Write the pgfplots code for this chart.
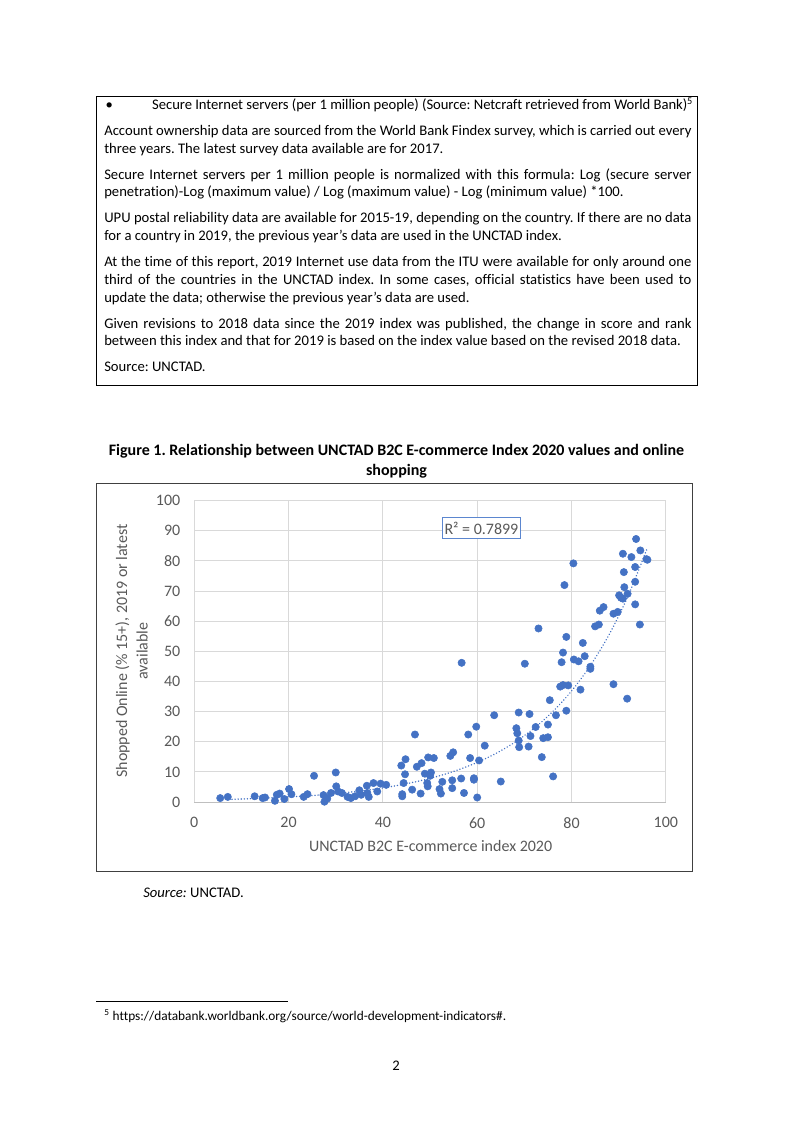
\documentclass[border=0pt]{standalone}
\usepackage{fontspec}
\setmainfont{Carlito}[Ligatures={NoCommon}]
\usepackage{pgfplots}
\pgfplotsset{compat=1.18}

\definecolor{xlblue}{HTML}{4472C4}
\definecolor{gridgray}{HTML}{D9D9D9}
\definecolor{axisgray}{HTML}{BFBFBF}
\definecolor{labelgray}{HTML}{595959}
\definecolor{framegray}{HTML}{404040}
\definecolor{boxblue}{HTML}{5B86CF}

\newcommand\jl[1]{\hbox to \linewidth{#1}}
\newcommand\nl[1]{\hbox{#1}}

\begin{document}
\frenchspacing
\begin{tikzpicture}
\begin{scope}[x=0.75066pt,y=-0.75066pt]
  \useasboundingbox (0,0) rectangle (793,1122);
  % text box
  \draw[line width=0.6pt] (96,96) rectangle (697,385);
  \node[anchor=base west, inner sep=0pt] at (104,109.5) {%
    \begin{minipage}[t]{440.8pt}
      \fontsize{11pt}{13.36pt}\selectfont
      \nl{\hbox to 36pt{\hspace{1pt}•\hfill}{\addfontfeature{LetterSpace=-0.4}Secure Internet servers (per 1 million people) (Source: Netcraft retrieved from World Bank)\textsuperscript{5}}}
      \vskip 6.1pt
      \jl{Account ownership data are sourced from the World Bank Findex survey, which is carried out every}
      \nl{three years. The latest survey data available are for 2017.}
      \vskip 6.1pt
      \jl{Secure Internet servers per 1 million people is normalized with this formula: Log (secure server}
      \nl{penetration)-Log (maximum value) / Log (maximum value) - Log (minimum value) *100.}
      \vskip 6.1pt
      \jl{UPU postal reliability data are available for 2015-19, depending on the country. If there are no data}
      \nl{for a country in 2019, the previous year’s data are used in the UNCTAD index.}
      \vskip 6.1pt
      \jl{At the time of this report, 2019 Internet use data from the ITU were available for only around one}
      \jl{third of the countries in the UNCTAD index. In some cases, official statistics have been used to}
      \nl{update the data; otherwise the previous year’s data are used.}
      \vskip 6.1pt
      \jl{Given revisions to 2018 data since the 2019 index was published, the change in score and rank}
      \nl{between this index and that for 2019 is based on the index value based on the revised 2018 data.}
      \vskip 6.1pt
      \nl{Source: UNCTAD.}
    \end{minipage}};
  % caption
  \node[anchor=base, inner sep=0pt, font=\fontsize{12pt}{14pt}\selectfont\bfseries] at (396.5,455)
    {Figure 1. Relationship between UNCTAD B2C E-commerce Index 2020 values and online};
  \node[anchor=base, inner sep=0pt, font=\fontsize{12pt}{14pt}\selectfont\bfseries] at (396.5,475)
    {shopping};
  % chart frame
  \draw[framegray, line width=0.75pt] (96,483) rectangle (692.3,871.7);
  % axis titles
  \node[anchor=base, rotate=90, inner sep=0pt, text=labelgray, font=\fontsize{12pt}{14pt}\selectfont] at (127,651)
    {Shopped Online (\% 15+), 2019 or latest};
  \node[anchor=base, rotate=90, inner sep=0pt, text=labelgray, font=\fontsize{12pt}{14pt}\selectfont] at (147.5,651)
    {available};
  \node[anchor=base, inner sep=0pt, text=labelgray, font=\fontsize{12pt}{14pt}\selectfont] at (430.6,851)
    {UNCTAD B2C E-commerce index 2020};
  % source, footnote, page number
  \node[anchor=base west, inner sep=0pt, font=\fontsize{11pt}{13pt}\selectfont] at (143,897)
    {\textit{Source:} UNCTAD.};
  \draw[line width=0.8pt] (96,1001.7) -- (288,1001.7);
  \node[anchor=base west, inner sep=0pt, font=\fontsize{10pt}{12pt}\selectfont] at (104,1020.5)
    {\textsuperscript{5} https://databank.worldbank.org/source/world-development-indicators\#.};
  \node[anchor=base, inner sep=0pt, font=\fontsize{11pt}{13pt}\selectfont] at (396,1070.5) {2};
\end{scope}

\begin{axis}[
    at={(145.85pt,-602.03pt)}, anchor=south west,
    scale only axis, width=353.94pt, height=226.17pt,
    xmin=0, xmax=100, ymin=0, ymax=100,
    xtick={0,20,...,100}, ytick={0,10,...,100},
    grid=major,
    major grid style={draw=gridgray, line width=0.75pt},
    axis line style={draw=none},
    tick style={draw=none},
    ticklabel style={font=\fontsize{12pt}{14pt}\selectfont, text=labelgray},
    /pgf/number format/assume math mode=true,
    xticklabel style={yshift=-8pt},
    yticklabel style={xshift=-7pt},
    clip=false,
]
\draw[axisgray, line width=0.75pt] (axis cs:0,0) -- (axis cs:100,0);

% exponential trendline
\addplot[xlblue, line width=1.2pt, line cap=round, dash pattern=on 0.01pt off 2.3pt, smooth] coordinates {
  (8,0.90) (12,1.11) (16,1.36) (20,1.67) (24,2.05) (28,2.52) (32,3.10) (36,3.81)
  (40,4.69) (44,5.76) (48,7.08) (52,8.70) (56,10.69) (60,13.14) (64,16.15) (68,19.84)
  (72,24.39) (76,29.97) (80,36.83) (84,45.27) (88,55.63) (92,68.4) (96,84.0)
};

\addplot[only marks, mark=*, mark size=2.75pt, color=xlblue, mark options={draw=xlblue, fill=xlblue}] table {
x y
5.5 1.3
7.1 1.7
12.8 1.9
14.5 1.3
15.0 1.5
17.1 0.4
17.5 2.4
18.1 2.8
19.1 1.0
20.1 4.3
20.6 2.6
23.2 1.7
24.0 2.6
25.4 8.7
27.4 2.3
27.6 0.1
28.2 1.1
29.0 3.0
30.0 9.8
30.1 5.2
30.5 3.5
31.3 3.0
32.5 1.7
33.2 1.3
34.1 1.9
35.0 3.9
35.4 2.4
36.6 5.4
37.0 1.7
36.7 3.0
38.0 6.3
38.8 3.5
39.5 6.1
40.7 5.7
43.9 12.1
44.8 14.2
44.1 2.6
44.1 1.9
44.4 6.3
44.7 9.2
46.2 4.1
46.8 22.4
47.2 11.7
48.0 2.8
48.2 12.9
48.9 9.4
49.6 14.8
49.4 6.3
49.5 5.2
50.0 8.7
50.2 9.8
50.8 14.6
52.0 4.3
52.3 2.8
52.6 6.7
54.3 15.3
54.9 16.5
54.7 7.2
54.7 4.6
56.7 46.2
56.6 7.8
57.2 3.0
58.1 22.4
58.5 14.6
59.3 7.9
59.3 7.4
59.8 25.0
60.0 1.5
60.4 13.8
61.6 18.7
63.6 28.8
65.0 6.8
68.3 24.5
68.5 22.8
68.8 29.7
68.8 20.4
68.9 18.2
70.1 45.9
70.9 18.4
71.1 29.2
71.3 21.9
72.4 24.9
73.0 57.6
73.7 14.9
74.0 21.2
75.0 21.5
75.0 25.7
75.4 33.8
76.1 8.5
76.7 28.8
77.6 38.3
77.9 46.4
78.2 49.6
78.5 72.0
78.2 38.8
78.9 30.3
78.9 54.8
79.3 38.7
80.4 79.2
80.5 47.3
81.5 46.7
81.9 37.3
82.4 52.8
82.8 48.4
84.0 44.9
84.0 44.2
85.0 58.3
85.8 58.9
86.0 63.5
86.8 64.7
88.9 39.1
88.9 62.5
89.8 63.1
90.1 68.6
90.5 67.8
90.9 82.4
91.1 76.3
91.2 71.3
90.9 67.5
91.8 34.3
91.9 69.1
92.7 81.3
93.7 87.3
93.5 78.0
93.5 73.1
93.5 65.6
94.6 83.5
94.5 58.9
95.9 80.6
96.1 80.4
};

\node[draw=boxblue, line width=0.75pt, fill=white, text=labelgray, inner sep=0pt,
      minimum width=58.9pt, minimum height=15.5pt, font=\fontsize{12pt}{14pt}\selectfont]
  at (axis cs:60.9,90.9) {R² = 0.7899};
\end{axis}
\end{tikzpicture}
\end{document}
